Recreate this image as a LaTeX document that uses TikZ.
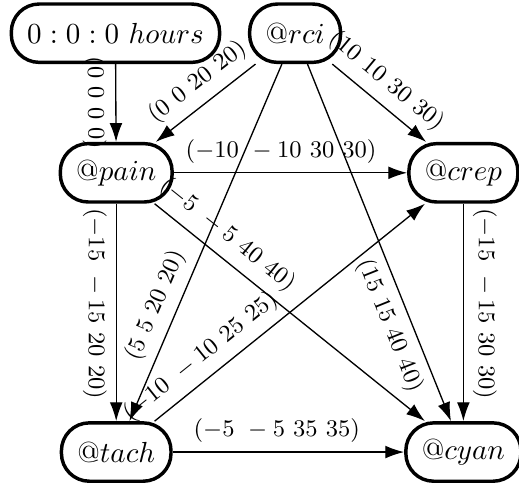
\documentclass[tikz,border=0pt]{standalone}
\usepackage{amsmath,amssymb}
\usetikzlibrary{arrows.meta}

\begin{document}
\begin{tikzpicture}[
    state/.style={draw,line width=1.3pt,rounded corners=10.5pt,minimum height=22pt,inner xsep=6pt,
      font=\fontsize{10.8}{13}\selectfont},
    trans/.style={-{Latex[length=2.5mm,width=1.7mm]},line width=0.5pt},
    lbl/.style={font=\small,sloped}]
  \useasboundingbox (0,0) rectangle (6.877,6.44);
  % States
  \node[state] (hours) at (1.53,6.00) {$0:0:0\ hours$};
  \node[state] (rci)   at (3.91,6.00) {$@rci$};
  \node[state] (pain)  at (1.54,4.15) {$@pain$};
  \node[state] (crep)  at (6.14,4.15) {$@crep$};
  \node[state] (tach)  at (1.54,0.45) {$@tach$};
  \node[state] (cyan)  at (6.14,0.45) {$@cyan$};
  % Transitions from the top row
  \draw[trans] (hours) -- (pain) node[lbl,pos=.5,below] {$(0\ 0\ 0\ 0)$};
  \draw[trans] (rci) -- (pain) node[lbl,pos=.45,above] {$(0\ 0\ 20\ 20)$};
  \draw[trans] (rci) -- (crep) node[lbl,pos=.43,above] {$(10\ 10\ 30\ 30)$};
  \draw[trans] (rci) -- (tach) node[lbl,pos=.7,above] {$(5\ 5\ 20\ 20)$};
  \draw[trans] (rci) -- (cyan) node[lbl,pos=.71,below] {$(15\ 15\ 40\ 40)$};
  % Transitions from the middle row
  \draw[trans] (pain) -- (crep) node[lbl,pos=.46,above] {$(-10\ -10\ 30\ 30)$};
  \draw[trans] (pain) -- (cyan) node[lbl,pos=.22,above] {$(-5\ -5\ 40\ 40)$};
  \draw[trans] (pain) -- (tach) node[lbl,pos=.46,below] {$(-15\ -15\ 20\ 20)$};
  \draw[trans] (crep) -- (cyan) node[lbl,pos=.46,above] {$(-15\ -15\ 30\ 30)$};
  % Transitions from the bottom row
  \draw[trans] (tach) -- (crep) node[lbl,pos=.22,above] {$(-10\ -10\ 25\ 25)$};
  \draw[trans] (tach) -- (cyan) node[lbl,pos=.45,above] {$(-5\ -5\ 35\ 35)$};
\end{tikzpicture}
\end{document}
